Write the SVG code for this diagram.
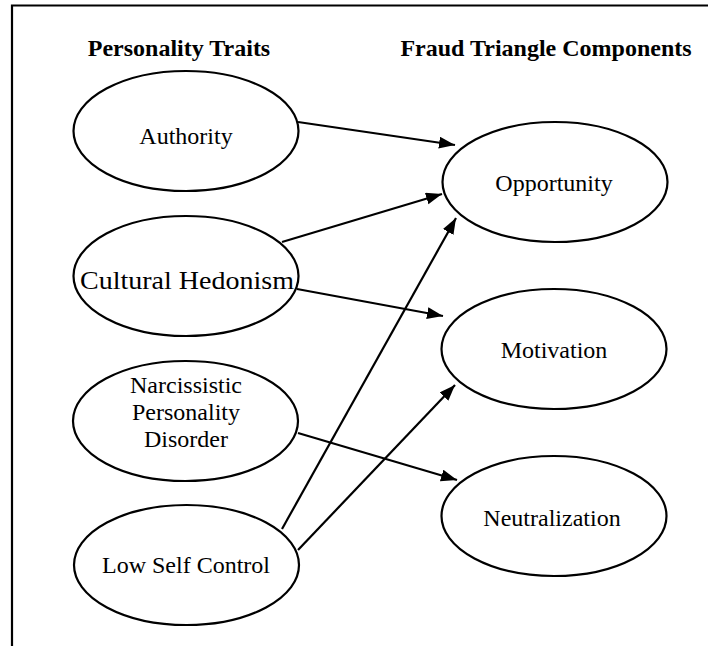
<svg xmlns="http://www.w3.org/2000/svg" width="708" height="646" viewBox="0 0 708 646">
<style>
.frame{fill:none;stroke:#000;stroke-width:2.2}
.node ellipse{fill:#fff;stroke:#000;stroke-width:2.2}
.node text{font-family:"Liberation Serif","Times New Roman",serif;font-size:24px;text-anchor:middle;fill:#000}
.hdr{font-family:"Liberation Serif","Times New Roman",serif;font-size:24px;font-weight:bold;text-anchor:middle;fill:#000}
.edge{stroke:#000;stroke-width:2.2;fill:none;marker-end:url(#ah)}
</style>
<defs>
<marker id="ah" markerUnits="userSpaceOnUse" markerWidth="17" markerHeight="13" refX="16" refY="6" orient="auto">
<path d="M0,0 L16,6 L0,12 z" fill="#000"/>
</marker>
</defs>
<rect width="708" height="646" fill="#fff"/>
<path class="frame" d="M12,646 V5.5 H710"/>
<text class="hdr" x="179" y="56">Personality Traits</text>
<text class="hdr" x="546" y="56">Fraud Triangle Components</text>
<g id="connectors">
<line class="edge" x1="298" y1="122" x2="455" y2="145"/>
<line class="edge" x1="282" y1="242" x2="442" y2="194"/>
<line class="edge" x1="282" y1="529" x2="456" y2="218"/>
<line class="edge" x1="297" y1="289" x2="443" y2="316"/>
<line class="edge" x1="298" y1="550" x2="455" y2="385"/>
<line class="edge" x1="298" y1="433" x2="457" y2="480"/>
</g>
<g id="authority" class="node"><ellipse cx="186" cy="131" rx="112.5" ry="60"/><text x="186" y="144">Authority</text></g>
<g id="cultural-hedonism" class="node"><ellipse cx="186" cy="276" rx="112.5" ry="60"/><text x="187" y="289" style="font-size:26px" textLength="214" lengthAdjust="spacingAndGlyphs">Cultural Hedonism</text></g>
<g id="narcissistic" class="node"><ellipse cx="185.5" cy="421" rx="112.5" ry="60"/><text x="186" y="393">Narcissistic</text><text x="186" y="420">Personality</text><text x="186" y="447">Disorder</text></g>
<g id="low-self-control" class="node"><ellipse cx="186.5" cy="565" rx="112.5" ry="60"/><text x="186" y="573">Low Self Control</text></g>
<g id="opportunity" class="node"><ellipse cx="555" cy="182" rx="112.5" ry="60"/><text x="554" y="190.5">Opportunity</text></g>
<g id="motivation" class="node"><ellipse cx="554" cy="349" rx="112.5" ry="60"/><text x="554" y="358">Motivation</text></g>
<g id="neutralization" class="node"><ellipse cx="554" cy="516" rx="112.5" ry="60"/><text x="552" y="526">Neutralization</text></g>
</svg>
